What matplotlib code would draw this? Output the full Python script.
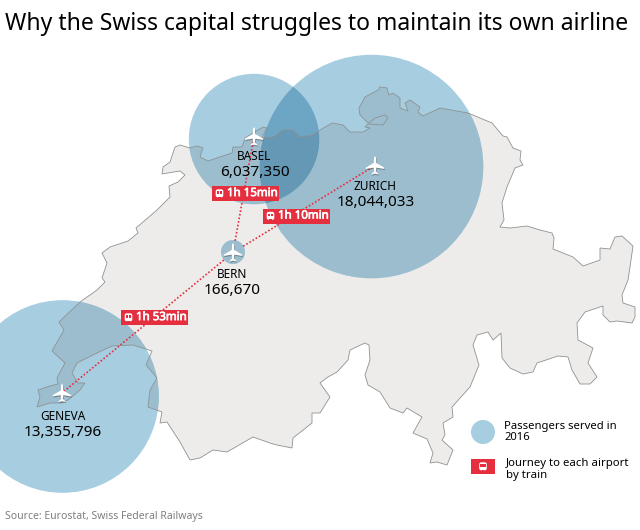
import numpy as np
import matplotlib
matplotlib.use("Agg")
import matplotlib.pyplot as plt
import matplotlib.patheffects as pe
from matplotlib.patches import Circle, Polygon, Rectangle, FancyBboxPatch

plt.rcParams["font.family"] = ["Noto Sans", "DejaVu Sans"]

# data
airports = ["BASEL", "ZURICH", "BERN", "GENEVA"]
passengers = [6037350, 18044033, 166670, 13355796]
journeys = ["1h 15min", "1h 10min", "1h 53min"]
journey_from = ["BASEL", "ZURICH", "GENEVA"]

# plane position of each airport, and centre of its bubble (pixels)
pos_x = [254, 375, 233, 62]
pos_y = [136.5, 165.5, 252.5, 393]
bub_x = [254, 371.5, 233, 62.5]
bub_y = [139, 166.5, 252, 396.5]

# outline of Switzerland, traced clockwise from the north-west
outline_x = [102, 107, 102, 110, 128, 138, 136, 143, 157, 170, 169, 178, 185, 180, 162, 163, 170, 175, 180, 190,
             197, 203, 200, 208, 220, 232, 233, 242, 245, 253, 263, 267, 262, 273, 283, 293, 300, 313, 320, 332,
             343, 350, 363, 370, 365, 370, 375, 385, 388, 383, 369, 360, 359, 365, 378, 380, 387, 389, 393, 400,
             400, 408, 405, 410, 420, 418, 423, 440, 468, 492, 503, 507, 513, 521, 520, 523, 515, 507, 502, 504,
             500, 510, 527, 540, 552, 554, 553, 573, 583, 600, 600, 610, 615, 622, 633, 630, 628, 622, 623, 635,
             635, 632, 617, 610, 603, 603, 585, 577, 578, 593, 588, 597, 590, 580, 572, 568, 558, 537, 533, 523,
             510, 502, 501, 493, 488, 477, 473, 479, 470, 452, 453, 443, 445, 442, 453, 447, 437, 430, 433, 427,
             413, 422, 407, 403, 390, 380, 368, 365, 370, 369, 365, 350, 348, 337, 328, 320, 330, 320, 312, 312,
             293, 292, 277, 270, 253, 227, 213, 200, 190, 180, 167, 160, 162, 148, 150, 157, 146, 152, 133, 112,
             97, 77, 72, 78, 85, 80, 68, 62, 50, 37, 40, 38, 50, 58, 57, 65, 52, 64, 59, 80,
             97, 105]
outline_y = [278, 263, 253, 247, 241, 233, 228, 222, 210, 197, 186, 182, 175, 171, 174, 167, 162, 147, 145, 148,
             146, 148, 157, 161, 157, 153, 147, 147, 138, 133, 127, 128, 138, 137, 130, 130, 137, 135, 130, 123,
             125, 132, 132, 128, 127, 122, 118, 115, 118, 125, 124, 115, 108, 97, 90, 87, 88, 95, 93, 98,
             108, 111, 103, 100, 107, 112, 116, 108, 113, 123, 136, 137, 148, 151, 160, 165, 168, 187, 203, 220,
             227, 228, 226, 230, 233, 238, 249, 257, 266, 260, 248, 249, 237, 236, 246, 267, 280, 295, 303, 307,
             317, 323, 321, 322, 315, 306, 312, 323, 340, 348, 363, 377, 384, 384, 370, 357, 356, 363, 372, 374,
             368, 358, 333, 340, 332, 335, 345, 365, 387, 407, 417, 423, 435, 440, 450, 465, 462, 463, 453, 439,
             433, 417, 408, 413, 408, 392, 385, 375, 360, 345, 343, 350, 360, 372, 377, 383, 397, 413, 413, 423,
             438, 448, 445, 443, 437, 452, 450, 458, 460, 442, 422, 423, 412, 407, 390, 378, 365, 351, 345, 346,
             353, 363, 373, 383, 383, 390, 400, 403, 403, 407, 397, 390, 386, 384, 378, 363, 351, 330, 322, 302,
             290, 282]

# bubble colours (multiply look of the overlaps)
BUBBLE = "#a7cde0"
BUBBLE_MAP = "#9bbdcd"
LENS = "#6da5c5"
LENS_MAP = "#6598b4"
LAND = "#edecea"
RED = "#e52f3f"


def bubble_radius(n):
    return 1.3 + 26 * np.sqrt(n / 1e6)


def draw_plane(ax, x, y):
    # plane outline, nose up, in pixels around the centre
    px = 0.84 * np.array([0, 1.2, 1.4, 11, 11, 1.6, 1, 4, 4, 0, -4, -4, -1, -1.6, -11, -11, -1.4, -1.2])
    py = 0.86 * np.array([-11, -9, -3, 2.5, 4, 2.5, 7, 9.5, 10.5, 9.5, 10.5, 9.5, 7, 2.5, 4, 2.5, -3, -9])
    ax.add_patch(Polygon(np.c_[px + x + 0.6, py + y + 1.2], closed=True, fc="#444444", ec="none", alpha=0.45, zorder=8))
    ax.add_patch(Polygon(np.c_[px + x, py + y], closed=True, fc="white", ec="none", zorder=9))


def draw_train(ax, x, y):
    ax.add_patch(FancyBboxPatch((x - 3.8, y - 4.2), 7.6, 8, boxstyle="round,pad=0,rounding_size=2",
                                fc="white", ec="none", zorder=12))
    ax.add_patch(Rectangle((x - 2.8, y - 2.2), 2.4, 2.4, fc=RED, ec="none", zorder=13))
    ax.add_patch(Rectangle((x + 0.4, y - 2.2), 2.4, 2.4, fc=RED, ec="none", zorder=13))
    ax.add_patch(Rectangle((x - 1.2, y + 3.4), 2.4, 1, fc=RED, ec="none", zorder=13))


fig = plt.figure(figsize=(6.4, 5.3), dpi=100)
ax = fig.add_axes([0, 0, 1, 1])
ax.set_xlim(0, 640)
ax.set_ylim(530, 0)
ax.axis("off")

land_xy = np.c_[outline_x, outline_y]
land = Polygon(land_xy, closed=True, fc=LAND, ec="none", zorder=1)
ax.add_patch(land)

# bubbles: once over white, once clipped to the land
for n, x, y in zip(passengers, bub_x, bub_y):
    r = bubble_radius(n)
    ax.add_patch(Circle((x, y), r, fc=BUBBLE, ec="none", zorder=2))
    c = Circle((x, y), r, fc=BUBBLE_MAP, ec="none", zorder=3)
    ax.add_patch(c)
    c.set_clip_path(land)

# overlap of Basel and Zurich
bx, by, br = bub_x[0], bub_y[0], bubble_radius(passengers[0])
zx, zy, zr = bub_x[1], bub_y[1], bubble_radius(passengers[1])
t = np.linspace(0, 2 * np.pi, 720)
b_pts = np.c_[bx + br * np.cos(t), by + br * np.sin(t)]
z_pts = np.c_[zx + zr * np.cos(t), zy + zr * np.sin(t)]
b_in = b_pts[np.hypot(b_pts[:, 0] - zx, b_pts[:, 1] - zy) <= zr]
z_in = z_pts[np.hypot(z_pts[:, 0] - bx, z_pts[:, 1] - by) <= br]
pts = np.r_[b_in, z_in]
pts = pts[np.argsort(np.arctan2(pts[:, 1] - pts[:, 1].mean(), pts[:, 0] - pts[:, 0].mean()))]
ax.add_patch(Polygon(pts, closed=True, fc=LENS, ec="none", zorder=4))
lens_land = Polygon(pts, closed=True, fc=LENS_MAP, ec="none", zorder=5)
ax.add_patch(lens_land)
lens_land.set_clip_path(land)

# border on top of the bubbles
ax.add_patch(Polygon(land_xy, closed=True, fc="none", ec="#8f9292", lw=0.6, zorder=6))

# rail lines, they stop at the edge of the Bern bubble
bern = airports.index("BERN")
bern_r = bubble_radius(passengers[bern])
for name in journey_from:
    i = airports.index(name)
    dx, dy = pos_x[i] - pos_x[bern], pos_y[i] - pos_y[bern]
    d = np.hypot(dx, dy)
    ax.plot([pos_x[bern] + dx / d * bern_r, pos_x[i]], [pos_y[bern] + dy / d * bern_r, pos_y[i]],
            color=RED, lw=1.2, ls=(0, (1, 1.2)), zorder=7)

for x, y in zip(pos_x, pos_y):
    draw_plane(ax, x, y)

# labels
name_y = [156, 187, 274, 417]
value_y = [172, 203, 290, 432]
name_x = [254.5, 375, 232, 62.5]
value_x = [255, 375.5, 232.5, 63]
for name, n, x1, y1, x2, y2 in zip(airports, passengers, name_x, name_y, value_x, value_y):
    ax.text(x1, y1, name, ha="center", va="center", fontsize=8.5, color="black", zorder=10)
    ax.text(x2, y2, f"{n:,}", ha="center", va="center", fontsize=11, color="black", zorder=10)

# journey badges
badge_x = [212, 263, 121]
badge_y = [186, 208.5, 310]
heavy = [pe.withStroke(linewidth=0.5, foreground="white")]
for label, x, y in zip(journeys, badge_x, badge_y):
    ax.add_patch(Rectangle((x, y), 67, 15, fc=RED, ec="none", zorder=11))
    draw_train(ax, x + 7.5, y + 7.5)
    ax.text(x + 15, y + 7.6, label, ha="left", va="center", fontsize=8.3,
            color="white", zorder=12, path_effects=heavy)

# legend
ax.add_patch(Circle((483, 432), 12, fc=BUBBLE, ec="none", zorder=2))
ax.text(504, 432, "Passengers served in\n2016", ha="left", va="center", fontsize=8.1, linespacing=1.03)
ax.add_patch(Rectangle((471, 459), 24, 15, fc=RED, ec="none", zorder=2))
draw_train(ax, 483, 466.5)
ax.text(505.5, 469.5, "Journey to each airport\nby train", ha="left", va="center", fontsize=8.2, linespacing=1.03)

ax.text(5, 24.5, "Why the Swiss capital struggles to maintain its own airline", ha="left", va="center",
        fontsize=16.5, color="black")
ax.text(5, 517, "Source: Eurostat, Swiss Federal Railways", ha="left", va="center", fontsize=7.5, color="#7f7f7f")

fig.savefig("out.png", dpi=100)
